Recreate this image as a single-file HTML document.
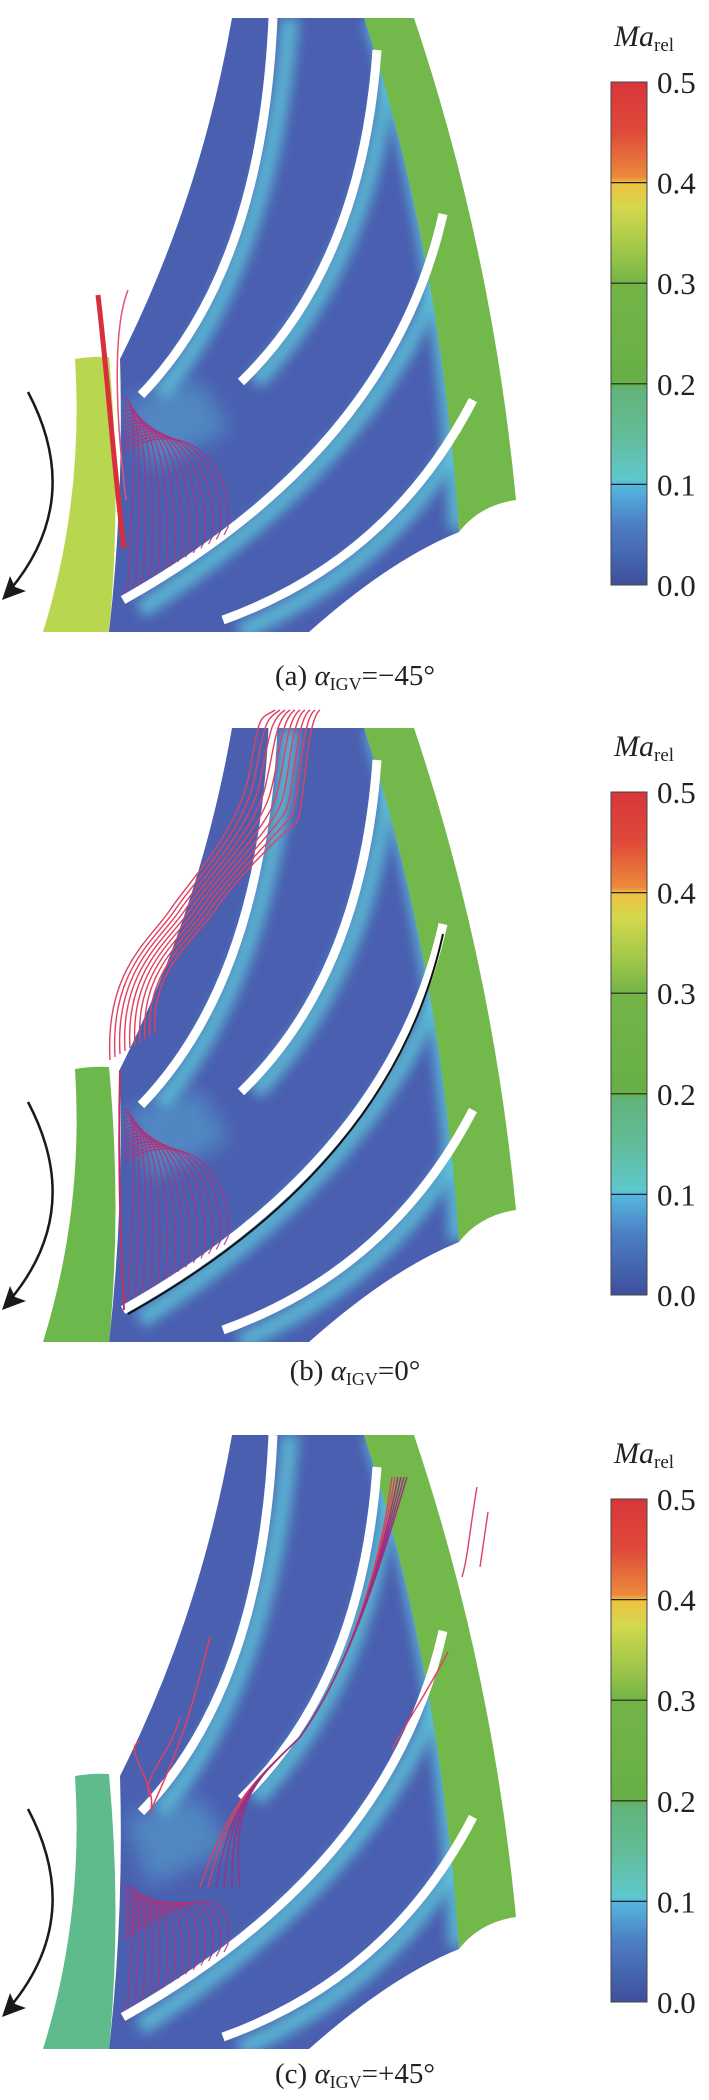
<!DOCTYPE html>
<html><head><meta charset="utf-8">
<style>
html,body{margin:0;padding:0;background:#fff;}
svg{display:block;}
text{font-family:"Liberation Serif",serif;fill:#222;}
</style></head>
<body>
<svg id="fig" width="709" height="2100" viewBox="0 0 709 2100" xmlns="http://www.w3.org/2000/svg">
<defs>
  <linearGradient id="cbar" x1="0" y1="0" x2="0" y2="1">
    <stop offset="0" stop-color="#d7363a"/>
    <stop offset="0.1" stop-color="#df4a3a"/>
    <stop offset="0.19" stop-color="#ec8a3c"/>
    <stop offset="0.2" stop-color="#efc040"/>
    <stop offset="0.25" stop-color="#d4d84c"/>
    <stop offset="0.33" stop-color="#a2c84a"/>
    <stop offset="0.4" stop-color="#74b446"/>
    <stop offset="0.6" stop-color="#66b046"/>
    <stop offset="0.61" stop-color="#62b47a"/>
    <stop offset="0.7" stop-color="#62bc98"/>
    <stop offset="0.79" stop-color="#5ec8cc"/>
    <stop offset="0.8" stop-color="#54b8e0"/>
    <stop offset="0.88" stop-color="#4c7ec4"/>
    <stop offset="1" stop-color="#3f4f9c"/>
  </linearGradient>
  <filter id="blur6" x="-20%" y="-20%" width="140%" height="140%"><feGaussianBlur stdDeviation="6"/></filter>
  <filter id="blur10" x="-30%" y="-30%" width="160%" height="160%"><feGaussianBlur stdDeviation="10"/></filter>
  <clipPath id="domclip"><path d="M232 18 L364 18 Q440 250 459 532 Q390 560 309 632 L109 632 Q124 500 120 359 Q200 200 232 18 Z"/></clipPath>
</defs>
</svg>
<script>
// colorbar data
const cbTicks = [0.0, 0.1, 0.2, 0.3, 0.4, 0.5];
const cbTickLabels = ["0.0", "0.1", "0.2", "0.3", "0.4", "0.5"];
const panelLabels = ["(a) ", "(b) ", "(c) "];
const panelAngles = ["=\u221245\u00B0", "=0\u00B0", "=+45\u00B0"];
const inletColors = ["#b9d651", "#6cb84c", "#5fba8c"];

const NS = "http://www.w3.org/2000/svg";
const svg = document.getElementById("fig");
function mk(tag, attrs, parent) {
  const e = document.createElementNS(NS, tag);
  for (const k in attrs) e.setAttribute(k, attrs[k]);
  (parent || svg).appendChild(e);
  return e;
}
const offsets = [0, 710, 1417];
const captionY = [685, 1380, 2083];
const cbTop = 82, cbBot = 585, cbX = 611, cbW = 36;
function yScale(v) { return cbBot - (v - 0) / 0.5 * (cbBot - cbTop); }

for (let p = 0; p < 3; p++) {
  const g = mk("g", {transform: "translate(0," + offsets[p] + ")"});
  
  

  const ob = mk("path", {d: "M364 18 L414 18 Q492 250 516 500 Q480 505 459 532 Q440 250 364 18 Z", fill: "#72b84a"}, g);
  
  
  const ib = mk("path", {d: "M75 359 Q92 356 109 357 Q122 500 109 632 L43 632 Q84 500 75 359 Z", fill: inletColors[p]}, g);
  
  
  const dg = mk("g", {"clip-path": "url(#domclip)"}, g);
  
  
  mk("rect", {x: 100, y: 10, width: 420, height: 630, fill: "#4a5fb0"}, dg);
  const hl = [
    "M290 18 Q270 260 160 395", "M390 60 Q370 260 255 382",
    "M455 230 Q400 440 140 610", "M470 420 Q400 560 240 632",
    "M372 18 Q445 250 458 530", "M116 370 L116 632"
  ];
  hl.forEach((d, i) => {
    const e = mk("path", {d: d, fill: "none", stroke: "#5ec8da", "stroke-width": i == 5 ? 12 : 18, opacity: 0.8, filter: "url(#blur6)"}, dg);
    
    
  });
  const wash = mk("path", {d: "M125 400 L200 380 L230 430 L150 470 Z", fill: "#5ab8d8", opacity: 0.45, filter: "url(#blur10)"}, dg);
  
  
  const blades = ["M273 18 Q262 270 141 395", "M377 50 Q362 265 241 382", "M443 214 Q390 450 123 600", "M473 400 Q390 560 223 620"];
  blades.forEach((d, i) => {
    const e = mk("path", {d: d, fill: "none", stroke: "#ffffff", "stroke-width": 9}, g);
    
    
  });
  if (p == 1) {
    const bl = mk("path", {d: "M443 224 Q392 456 128 604", fill: "none", stroke: "#111", "stroke-width": 2}, g);
    
    
  }
  const sg = mk("g", {fill: "none"}, g);
  
  
  for (let i = 0; i < 14; i++) {
    const t = i / 13;
    const ex = 128 + t * 100, ey = 585 - t * 58;
    const sy = p == 2 ? 470 : 400;
    const d = "M124 " + (sy + i * 4) + " C" + (140 + t * 40) + " " + (sy - 10 + i * 2) + " " + (ex + 5) + " " + (ey - 90 + t * 20) + " " + ex + " " + ey + " l-4 8";
    mk("path", {d: d, stroke: "#b0307a", "stroke-width": 1.3, opacity: 0.85}, sg);
  }
  if (p == 0) {
    mk("path", {d: "M98 295 C108 380 114 470 124 548", stroke: "#d8303a", "stroke-width": 5}, sg);
    mk("path", {d: "M128 290 C112 330 116 420 126 500", stroke: "#e85070", "stroke-width": 1.5}, sg);
  } else if (p == 1) {
    for (let i = 0; i < 10; i++) {
      const x0 = 110 + i * 5, y0 = 350 - i * 3;
      mk("path", {d: "M" + x0 + " " + y0 + " C" + (x0 - 5) + " 260 " + (x0 + 40) + " 230 " + (x0 + 60) + " 200 S" + (x0 + 130) + " 120 " + (x0 + 140) + " " + (60 + i * 6) + " S" + (x0 + 150) + " 10 " + (x0 + 165) + " 0", stroke: "#e04060", "stroke-width": 1.4}, sg);
    }
    mk("path", {d: "M120 360 C118 450 120 520 124 600", stroke: "#c03060", "stroke-width": 2}, sg);
  } else {
    mk("path", {d: "M140 325 C120 330 160 370 150 395 C180 330 190 300 210 220", stroke: "#e04060", "stroke-width": 1.5}, sg);
    mk("path", {d: "M150 380 C140 360 170 340 180 300", stroke: "#e04060", "stroke-width": 1.4}, sg);
    for (let i = 0; i < 6; i++) {
      mk("path", {d: "M" + (392 + i * 3) + " 60 C380 150 350 250 300 320 C260 360 230 380 " + (200 + i * 8) + " 470", stroke: i < 2 ? "#e04060" : "#9a3080", "stroke-width": 1.4}, sg);
    }
    mk("path", {d: "M477 70 C470 110 468 140 462 160 M488 95 L480 150", stroke: "#e04060", "stroke-width": 1.4}, sg);
    mk("path", {d: "M448 235 C430 270 410 300 392 332", stroke: "#e04060", "stroke-width": 1.4}, sg);
  }
  const ar = mk("path", {d: "M28 392 Q85 500 10 590", fill: "none", stroke: "#1a1a1a", "stroke-width": 2.5}, g);
  
  
  const ah = mk("path", {d: "M2 600 L10 576 L15 587 L26 591 Z", fill: "#1a1a1a"}, g);
  
  

  const cb = mk("rect", {x: cbX, y: cbTop, width: cbW, height: cbBot - cbTop, fill: "url(#cbar)", stroke: "#444", "stroke-width": 1}, g);
  
  
  cbTicks.forEach((v, i) => {
    const y = yScale(v);
    if (i > 0 && i < cbTicks.length - 1) {
      const l = mk("line", {x1: cbX, x2: cbX + cbW, y1: y, y2: y, stroke: "#222", "stroke-width": 1.2}, g);
      
      
    }
    const t = mk("text", {x: 657, y: y + 11, "font-size": 31}, g);
    t.textContent = cbTickLabels[i];
    
    
  });
  const ttl = mk("text", {x: 614, y: 46, "font-size": 30}, g);
  ttl.innerHTML = '<tspan font-style="italic">Ma</tspan><tspan font-size="19" dy="5">rel</tspan>';
  
  

  const cap = mk("text", {x: 355, y: captionY[p] - offsets[p], "font-size": 29, "text-anchor": "middle"}, g);
  cap.innerHTML = panelLabels[p] + '<tspan font-style="italic">\u03B1</tspan><tspan font-size="18" dy="5">IGV</tspan><tspan dy="-5">' + panelAngles[p] + '</tspan>';
  
  
}
</script>
</body></html>
